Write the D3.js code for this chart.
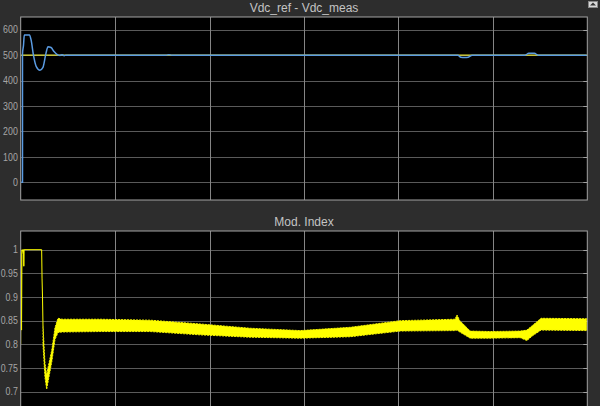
<!DOCTYPE html>
<html><head><meta charset="utf-8">
<script src="https://cdn.jsdelivr.net/npm/d3@7"></script>
<style>
html,body{margin:0;padding:0;background:#2d2d2d;overflow:hidden}
svg{display:block}
</style></head><body>
<svg id="c" width="600" height="406"></svg>
<script>
// ---------- data ----------
const xGrid = [1, 2, 3, 4, 5];
const vdcTicks = [0, 100, 200, 300, 400, 500, 600];
const modTicks = [0.7, 0.75, 0.8, 0.85, 0.9, 0.95, 1];

// Vdc_ref (yellow)
const refT = [0, 6];
const refV = [500, 500];

// Vdc_meas (blue)
const measT = [0, 0.019, 0.019, 0.03, 0.038, 0.093, 0.11, 0.135, 0.165, 0.204, 0.236, 0.268, 0.289, 0.321, 0.353, 0.384, 0.416, 0.44, 0.46, 0.48,
  1.54, 1.57, 1.6, 1.62, 4.63, 4.66, 4.70, 4.74, 4.78, 5.34, 5.38, 5.44, 5.48, 6];
const measV = [0, 0, 505, 540, 579, 579, 560, 500, 455, 441, 452, 508, 533, 530, 514, 503, 499, 502, 498, 500,
  500, 502, 500, 500, 500, 492, 491, 492, 500, 500, 507, 507, 500, 500];

// Mod. Index start-up (thin line)
const modLineT = [0, 0.004, 0.009, 0.013, 0.02, 0.03, 0.033, 0.036, 0.222, 0.226, 0.231, 0.236];
const modLineV = [0.80, 1.0, 0.83, 0.99, 1.0, 1.0, 0.965, 1.0, 1.0, 0.94, 0.90, 0.84];

// Mod. Index ripple band (upper / lower envelope)
const modT  = [0.236, 0.257, 0.275, 0.289, 0.331, 0.363, 0.395, 0.437, 0.84, 1.37, 1.90, 2.43, 2.96, 3.49, 4.02, 4.60, 4.62, 4.65, 4.76, 4.97, 5.29, 5.36, 5.42, 5.51, 6.0];
const modHi = [0.84, 0.76, 0.735, 0.75, 0.79, 0.835, 0.855, 0.853, 0.853, 0.851, 0.843, 0.834, 0.829, 0.836, 0.850, 0.853, 0.862, 0.85, 0.828, 0.827, 0.828, 0.83, 0.84, 0.855, 0.854];
const modLo = [0.80, 0.73, 0.705, 0.72, 0.765, 0.81, 0.825, 0.826, 0.827, 0.827, 0.82, 0.815, 0.813, 0.816, 0.828, 0.829, 0.83, 0.826, 0.813, 0.813, 0.814, 0.808, 0.818, 0.83, 0.829];

// ---------- layout ----------
const svg = d3.select("#c");
const L = 20.7, R = 587.3;
const x = d3.scaleLinear().domain([0, 6]).range([L, R]);
const top1 = 17, bot1 = 200, top2 = 231, bot2 = 414;
const y1 = d3.scaleLinear().domain([-69.6, 650]).range([bot1, top1]);
const y2 = d3.scaleLinear().domain([0.6527, 1.0395]).range([bot2, top2]);

function panel(id, yScale, ticks, top, bot, title, fmt) {
  const g = svg.append("g");
  g.append("rect").attr("x", L).attr("y", top).attr("width", R - L).attr("height", bot - top).attr("fill", "#000");
  g.selectAll(".hg").data(ticks).join("line")
    .attr("x1", L).attr("x2", R)
    .attr("y1", d => Math.round(yScale(d)) + 0.5).attr("y2", d => Math.round(yScale(d)) + 0.5)
    .attr("stroke", "#5a5a5a").attr("stroke-width", 1);
  g.selectAll(".vg").data(xGrid).join("line")
    .attr("x1", d => Math.round(x(d)) + 0.5).attr("x2", d => Math.round(x(d)) + 0.5)
    .attr("y1", top).attr("y2", bot)
    .attr("stroke", "#858585").attr("stroke-width", 1);
  g.selectAll(".rt").data(ticks).join("line")
    .attr("x1", R - 4).attr("x2", R)
    .attr("y1", d => Math.round(yScale(d)) + 0.5).attr("y2", d => Math.round(yScale(d)) + 0.5)
    .attr("stroke", "#a0a0a0");
  g.append("rect").attr("x", L).attr("y", top).attr("width", R - L).attr("height", bot - top)
    .attr("fill", "none").attr("stroke", "#a3a3a3").attr("stroke-width", 1);
  g.selectAll(".tl").data(ticks).join("text")
    .attr("transform", d => `translate(17.8,${yScale(d)}) scale(0.84,1)`)
    .attr("x", 0).attr("y", 0).attr("dy", "0.35em")
    .attr("text-anchor", "end").attr("fill", "#a6a6a6")
    .attr("font-family", "'Liberation Sans',Arial,sans-serif").attr("font-size", 10.5)
    .text(fmt);
  g.append("text").attr("x", (L + R) / 2).attr("y", top - 5).attr("text-anchor", "middle")
    .attr("fill", "#c4c4c4").attr("font-family", "'Liberation Sans',Arial,sans-serif").attr("font-size", 12)
    .text(title);
  svg.append("clipPath").attr("id", id).append("rect")
    .attr("x", L + 0.5).attr("y", top + 0.5).attr("width", R - L - 1).attr("height", bot - top - 1);
}

panel("clip1", y1, vdcTicks, top1, bot1, "Vdc_ref - Vdc_meas", d => d);
panel("clip2", y2, modTicks, top2, bot2, "Mod. Index", d3.format("~g"));

// ---- Vdc traces ----
const g1 = svg.append("g").attr("clip-path", "url(#clip1)");
const refData = refT.map((t, i) => [t, refV[i]]);
const measData = measT.map((t, i) => [t, measV[i]]);
g1.append("path").datum(refData)
  .attr("d", d3.line().x(d => x(d[0])).y(d => y1(d[1])))
  .attr("fill", "none").attr("stroke", "#e6e23a").attr("stroke-width", 1.2);
g1.append("path").datum(measData)
  .attr("d", d3.line().x(d => x(d[0])).y(d => y1(d[1])).curve(d3.curveMonotoneX))
  .attr("fill", "none").attr("stroke", "#5a9be2").attr("stroke-width", 1.5);

// ---- Mod. Index ----
const g2 = svg.append("g").attr("clip-path", "url(#clip2)");
const lineData = modLineT.map((t, i) => [t, modLineV[i]]);
g2.append("path").datum(lineData)
  .attr("d", d3.line().x(d => x(d[0])).y(d => y2(d[1])))
  .attr("fill", "none").attr("stroke", "#ffff00").attr("stroke-width", 1);
const bandData = modT.map((t, i) => ({ t, hi: modHi[i], lo: modLo[i] }));
g2.append("path").datum(bandData)
  .attr("d", d3.area().x(d => x(d.t)).y0(d => y2(d.lo)).y1(d => y2(d.hi)))
  .attr("fill", "#ffff00").attr("stroke", "#f2f200").attr("stroke-width", 1)
  .attr("stroke-dasharray", "2,1");

// small undock icon at top-right
const ic = svg.append("g");
ic.append("rect").attr("x", 588.5).attr("y", 1.5).attr("width", 9).attr("height", 6).attr("fill", "#d8d8d8").attr("stroke", "#888");
ic.append("path").attr("d", "M593,2.5 L596,5.5 L590,5.5 Z").attr("fill", "#333");
</script>
</body></html>
